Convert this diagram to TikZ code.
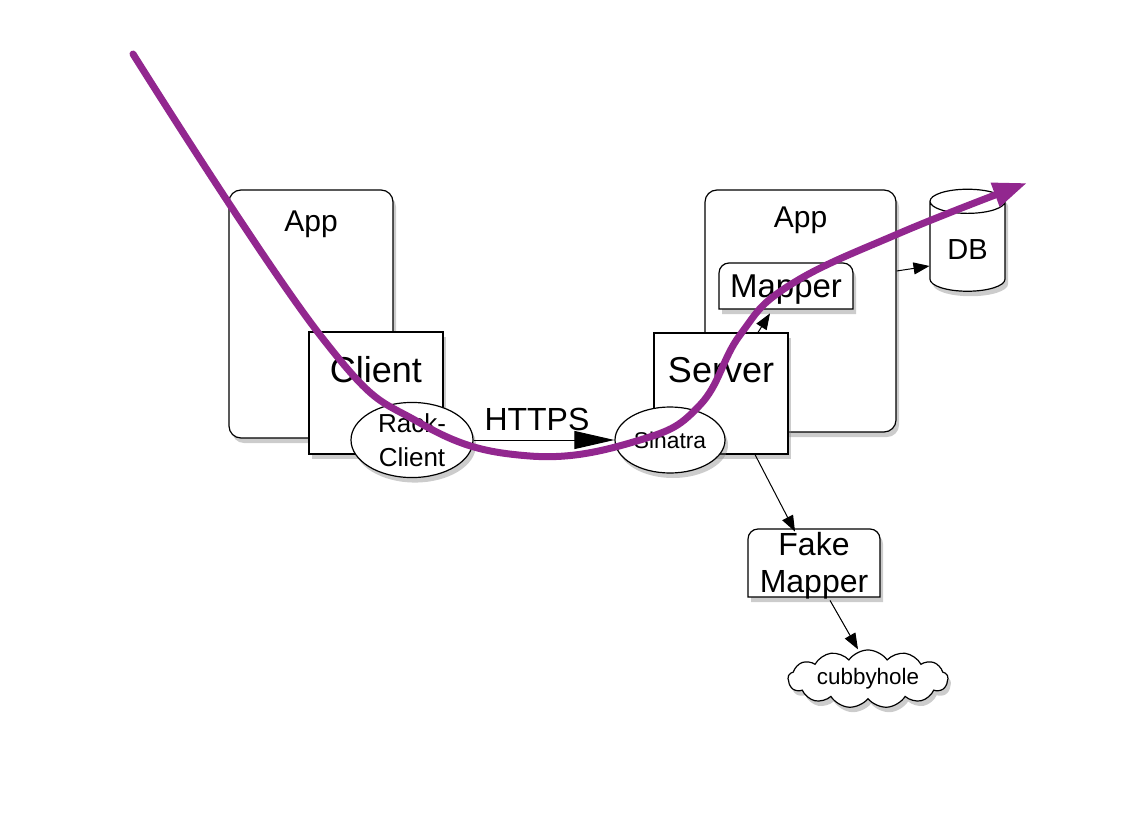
\documentclass[tikz,border=0pt]{standalone}
\usepackage{fontspec}
\setmainfont{Liberation Sans}
\usetikzlibrary{positioning}
\usetikzlibrary{shapes.geometric,shapes.symbols}
\usetikzlibrary{arrows.meta,shadows}
\definecolor{trace}{RGB}{146,39,143}
\newcommand{\fsz}[2]{\fontsize{#1}{#2}\selectfont}
% box with rounded top corners only
\newcommand{\roundtop}[3]{\draw[box] ([shift={(-#2,-#3)}]#1) [rounded corners=5pt] -- ([shift={(-#2,#3)}]#1) -- ([shift={(#2,#3)}]#1) [sharp corners] -- ([shift={(#2,-#3)}]#1) -- cycle;}
\tikzset{
  shade/.style={drop shadow={shadow xshift=1.5pt,shadow yshift=-2.5pt,opacity=0.4}},
  box/.style={draw,line width=0.6pt,fill=white,shade},
  appbox/.style={box,rounded corners=6pt},
  part/.style={box,inner sep=0pt},
  plug/.style={box,ellipse,inner sep=0pt,align=center},
  lbl/.style={inner sep=0pt,align=center},
  link/.style={line width=0.5pt,-{Triangle[length=8pt,width=6pt]}},
}
\begin{document}
\begin{tikzpicture}[x=0.5pt,y=-0.5pt]
  \useasboundingbox (0,0) rectangle (1134,829);
  % client side
  \node[appbox,minimum width=82pt,minimum height=124pt,
        label={[anchor=base,yshift=-21pt,font=\fsz{15pt}{18pt}]north:App}] (appL) at (311,314) {};
  \node[part,minimum width=67pt,minimum height=61pt,
        label={[anchor=base,yshift=-25.5pt,font=\fsz{18pt}{21pt}]north:Client}] (client) at (376,393) {};
  \node[plug,minimum width=61pt,minimum height=34pt,font=\fsz{13pt}{17pt}] (rack) at (412,440) {Rack-\\Client};
  % server side
  \node[appbox,minimum width=95.5pt,minimum height=121pt,
        label={[anchor=base,yshift=-19pt,font=\fsz{15pt}{18pt}]north:App}] (appR) at (800.5,311) {};
  \node[part,minimum width=67pt,minimum height=60.5pt,
        label={[anchor=base,yshift=-25pt,font=\fsz{18pt}{21pt}]north:Server}] (server) at (721,393.5) {};
  \node[plug,minimum width=55pt,minimum height=33pt,font=\fsz{11.4pt}{14pt}] (sinatra) at (670,440) {Sinatra};
  \coordinate (maprC) at (786,286);
  \roundtop{maprC}{33.5pt}{11.5pt}
  \node[lbl,minimum width=67pt,minimum height=23pt,font=\fsz{16.5pt}{19pt},yshift=-2pt] (mapr) at (maprC) {Mapper};
  \node[box,cylinder,shape border rotate=90,aspect=0.45,minimum width=37.5pt,minimum height=51pt,
        font=\fsz{14.5pt}{17pt}] (db) at (967.5,250) {DB};
  \coordinate (fakeC) at (814,563);
  \roundtop{fakeC}{33pt}{17pt}
  \node[lbl,minimum width=66pt,minimum height=34pt,font=\fsz{16pt}{18.5pt},yshift=-1.5pt] (fake) at (fakeC) {Fake\\Mapper};
  \node[box,cloud,cloud puffs=13,cloud puff arc=110,aspect=3.5,minimum width=80pt,minimum height=23pt,
        inner sep=0pt,font=\fsz{11.2pt}{13pt}] (cubby) at (868,679) {cubbyhole};
  % connectors
  \draw[line width=0.5pt,-{Triangle[length=20pt,width=9pt]}] (rack.east) -- node[pos=0.45,above=1pt,font=\fsz{16pt}{19pt}] (https) {HTTPS} (sinatra.west);
  \draw[link] ([xshift=18.5pt]server.north) -- ([xshift=-8pt]mapr.south);
  \draw[link] ([yshift=20pt]appR.east) -- ([xshift=-19pt,yshift=-8pt]db.center);
  \draw[link] ([xshift=17pt]server.south) -- ([xshift=-9.5pt]fake.north);
  \draw[link] ([xshift=8pt]fake.south) -- ([xshift=-5pt]cubby.north);
  % request trace
  \draw[trace,line width=3.5pt,line cap=round,-{Triangle[length=17pt,width=12pt]}] plot[smooth,tension=0.7] coordinates
    {(133,54) (320,335) (420,423) (530,456) (640,440) (700,405) (740,335) (790,285) (900,233) (1027,183)};
\end{tikzpicture}
\end{document}
